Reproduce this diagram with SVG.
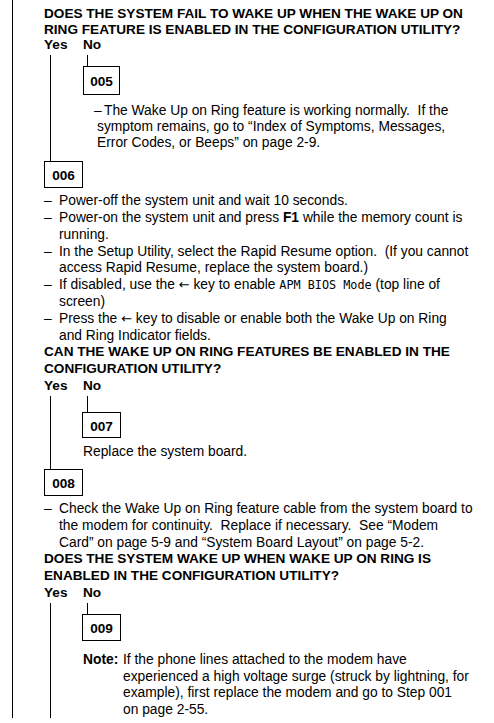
<svg xmlns="http://www.w3.org/2000/svg" width="494" height="723" viewBox="0 0 494 723">
<style>
text{fill:#000;white-space:pre}
.q{font:bold 13.6px "Liberation Sans",Arial,sans-serif}
.t{font:13.8px "Liberation Sans",Arial,sans-serif}
.b{font-weight:bold}
.lbl{font:bold 13.6px "Liberation Sans",Arial,sans-serif;text-anchor:middle}
.mono{font-family:"DejaVu Sans Mono",monospace;font-size:11.8px}
.ar{font-family:"DejaVu Sans",sans-serif;font-size:13px}
.ln{stroke:#000;stroke-width:1;fill:none}
.box{stroke:#000;stroke-width:1;fill:none}
</style>
<rect width="494" height="723" fill="#fff"/>
<g id="connectors" class="ln">
<line x1="12.5" y1="0" x2="12.5" y2="718"/>
<line x1="50.5" y1="55" x2="50.5" y2="161"/>
<line x1="87.5" y1="55" x2="87.5" y2="66"/>
<line x1="50.5" y1="396" x2="50.5" y2="469"/>
<line x1="87.5" y1="396" x2="87.5" y2="412"/>
<line x1="50.5" y1="603" x2="50.5" y2="718"/>
<line x1="87.5" y1="603" x2="87.5" y2="614"/>
</g>
<g id="q1">
<text class="q" x="44" y="18">DOES THE SYSTEM FAIL TO WAKE UP WHEN THE WAKE UP ON</text>
<text class="q" x="44" y="34">RING FEATURE IS ENABLED IN THE CONFIGURATION UTILITY?</text>
<text class="q" x="44" y="49">Yes</text>
<text class="q" x="83" y="49">No</text>
</g>
<g id="step005">
<rect class="box" x="83.5" y="66.5" width="36" height="28"/>
<text class="lbl" x="101.5" y="86">005</text>
<text class="t" x="94" y="115">–</text>
<text class="t" x="104" y="115">The Wake Up on Ring feature is working normally.  If the</text>
<text class="t" x="97" y="131">symptom remains, go to “Index of Symptoms, Messages,</text>
<text class="t" x="97" y="147">Error Codes, or Beeps” on page 2-9.</text>
</g>
<g id="step006">
<rect class="box" x="44.5" y="161.5" width="38" height="26"/>
<text class="lbl" x="63.5" y="180">006</text>
<text class="t" x="44" y="205">–</text>
<text class="t" x="59" y="205">Power-off the system unit and wait 10 seconds.</text>
<text class="t" x="44" y="222">–</text>
<text class="t" x="59" y="222">Power-on the system unit and press <tspan class="b">F1</tspan> while the memory count is</text>
<text class="t" x="59" y="238.5">running.</text>
<text class="t" x="44" y="255.5">–</text>
<text class="t" x="59" y="255.5">In the Setup Utility, select the Rapid Resume option.  (If you cannot</text>
<text class="t" x="59" y="272">access Rapid Resume, replace the system board.)</text>
<text class="t" x="44" y="289">–</text>
<text class="t" x="59" y="289">If disabled, use the <tspan class="ar">←</tspan> key to enable <tspan class="mono">APM BIOS Mode</tspan> (top line of</text>
<text class="t" x="59" y="306">screen)</text>
<text class="t" x="44" y="322.5">–</text>
<text class="t" x="59" y="322.5">Press the <tspan class="ar">←</tspan> key to disable or enable both the Wake Up on Ring</text>
<text class="t" x="59" y="339.5">and Ring Indicator fields.</text>
</g>
<g id="q2">
<text class="q" x="44" y="356">CAN THE WAKE UP ON RING FEATURES BE ENABLED IN THE</text>
<text class="q" x="44" y="373">CONFIGURATION UTILITY?</text>
<text class="q" x="44" y="390">Yes</text>
<text class="q" x="83" y="390">No</text>
</g>
<g id="step007">
<rect class="box" x="82.5" y="412.5" width="38" height="25"/>
<text class="lbl" x="101.5" y="431">007</text>
<text class="t" x="83" y="456">Replace the system board.</text>
</g>
<g id="step008">
<rect class="box" x="44.5" y="469.5" width="38" height="26"/>
<text class="lbl" x="63.5" y="488">008</text>
<text class="t" x="44" y="513">–</text>
<text class="t" x="59" y="513">Check the Wake Up on Ring feature cable from the system board to</text>
<text class="t" x="59" y="530">the modem for continuity.  Replace if necessary.  See “Modem</text>
<text class="t" x="59" y="546.5">Card” on page 5-9 and “System Board Layout” on page 5-2.</text>
</g>
<g id="q3">
<text class="q" x="44" y="563">DOES THE SYSTEM WAKE UP WHEN WAKE UP ON RING IS</text>
<text class="q" x="44" y="580">ENABLED IN THE CONFIGURATION UTILITY?</text>
<text class="q" x="44" y="597">Yes</text>
<text class="q" x="83" y="597">No</text>
</g>
<g id="step009">
<rect class="box" x="82.5" y="614.5" width="38" height="26"/>
<text class="lbl" x="101.5" y="633">009</text>
<text class="t b" x="83" y="663.5">Note:</text>
<text class="t" x="123" y="663.5">If the phone lines attached to the modem have</text>
<text class="t" x="123" y="680.5">experienced a high voltage surge (struck by lightning, for</text>
<text class="t" x="123" y="697">example), first replace the modem and go to Step 001</text>
<text class="t" x="123" y="714">on page 2-55.</text>
</g>
</svg>
